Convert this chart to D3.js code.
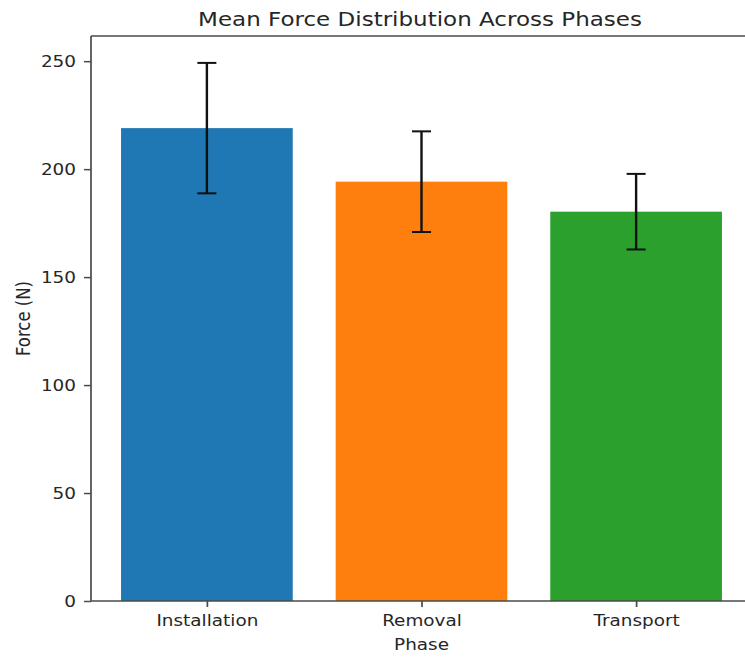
<!DOCTYPE html>
<html>
<head>
<meta charset="utf-8">
<script src="https://cdn.jsdelivr.net/npm/d3@7"></script>
<style>
  html, body { margin: 0; padding: 0; background: #fff; }
  svg { display: block; }
  text { font-family: "DejaVu Sans", sans-serif; fill: #262626; }
</style>
</head>
<body>
<svg id="chart" width="745" height="657"></svg>
<script>
// Mean force per phase with one-standard-deviation error bars
const phases = ["Installation", "Removal", "Transport"];
const meanForce = [219.0, 194.2, 180.3];
const stdForce = [30.2, 23.3, 17.5];
const barColors = ["#1f77b4", "#ff7f0e", "#2ca02c"];
const yTicks = [0, 50, 100, 150, 200, 250];

const W = 745, H = 657;
const margin = { left: 91, right: -7, top: 36, bottom: 56 };
const sx = 1.15; // horizontal text stretch of the figure

const svg = d3.select("#chart");

const x = d3.scaleLinear()
  .domain([-0.54, phases.length - 1 + 0.54])
  .range([margin.left, W - margin.right]);

const yMax = d3.max(meanForce.map((m, i) => m + stdForce[i])) * 1.05;
const y = d3.scaleLinear()
  .domain([0, yMax])
  .range([H - margin.bottom, margin.top]);

const barW = 0.8;

// bars
svg.append("g").selectAll("rect")
  .data(phases)
  .join("rect")
  .attr("x", (d, i) => x(i - barW / 2))
  .attr("width", (d, i) => x(i + barW / 2) - x(i - barW / 2))
  .attr("y", (d, i) => y(meanForce[i]))
  .attr("height", (d, i) => y(0) - y(meanForce[i]))
  .attr("fill", (d, i) => barColors[i]);

// error bars
const capHalf = 9.5;
const eb = svg.append("g").attr("stroke", "#111");
phases.forEach((p, i) => {
  const cx = x(i);
  const hi = y(meanForce[i] + stdForce[i]);
  const lo = y(meanForce[i] - stdForce[i]);
  eb.append("line").attr("x1", cx).attr("x2", cx).attr("y1", hi).attr("y2", lo)
    .attr("stroke-width", 2.4);
  [hi, lo].forEach(v => {
    eb.append("line").attr("x1", cx - capHalf).attr("x2", cx + capHalf)
      .attr("y1", v).attr("y2", v).attr("stroke-width", 2);
  });
});

// spines
const spine = svg.append("g").attr("stroke", "#4a4a4a").attr("fill", "none");
spine.append("line").attr("x1", x.range()[0]).attr("x2", x.range()[0])
  .attr("y1", y.range()[1]).attr("y2", y.range()[0]).attr("stroke-width", 1.7);
spine.append("line").attr("x1", x.range()[0]).attr("x2", x.range()[1])
  .attr("y1", y.range()[0]).attr("y2", y.range()[0]).attr("stroke-width", 1.5);
spine.append("line").attr("x1", x.range()[0]).attr("x2", x.range()[1])
  .attr("y1", y.range()[1]).attr("y2", y.range()[1]).attr("stroke-width", 1.5);
spine.append("line").attr("x1", x.range()[1]).attr("x2", x.range()[1])
  .attr("y1", y.range()[1]).attr("y2", y.range()[0]).attr("stroke-width", 1.7);

// y axis ticks and labels
const yAxis = d3.axisLeft(y).tickValues(yTicks).tickSize(7).tickPadding(0).tickFormat(d3.format("d"));
const gy = svg.append("g").attr("transform", `translate(${x.range()[0]},0)`).call(yAxis);
gy.select(".domain").remove();
gy.selectAll(".tick line").attr("stroke", "#4a4a4a").attr("stroke-width", 1.5);
gy.selectAll(".tick text")
  .attr("x", null).attr("dy", null)
  .attr("font-size", 16)
  .attr("fill", "#262626")
  .attr("text-anchor", "end")
  .attr("transform", `translate(-15,5.8) scale(${sx},1)`);

// x axis ticks and labels
const xAxis = d3.axisBottom(x).tickValues(phases.map((d, i) => i)).tickSize(6).tickPadding(0)
  .tickFormat(i => phases[i]);
const gx = svg.append("g").attr("transform", `translate(0,${y.range()[0]})`).call(xAxis);
gx.select(".domain").remove();
gx.selectAll(".tick line").attr("stroke", "#4a4a4a").attr("stroke-width", 1.7);
gx.selectAll(".tick text")
  .attr("y", null).attr("dy", null)
  .attr("font-size", 16)
  .attr("fill", "#262626")
  .attr("text-anchor", "middle")
  .attr("transform", `translate(0,25) scale(${sx},1)`);

// axis titles
svg.append("text")
  .attr("text-anchor", "middle").attr("font-size", 16)
  .attr("transform", `translate(${(x.range()[0] + x.range()[1]) / 2},649.5) scale(${sx},1)`)
  .text("Phase");

svg.append("text")
  .attr("text-anchor", "middle").attr("font-size", 16.5)
  .attr("transform", `translate(29.5,${(y.range()[0] + y.range()[1]) / 2}) scale(${sx},1) rotate(-90)`)
  .text("Force (N)");

// chart title
svg.append("text")
  .attr("text-anchor", "middle").attr("font-size", 20)
  .attr("transform", `translate(420,26) scale(${sx},1)`)
  .text("Mean Force Distribution Across Phases");
</script>
</body>
</html>
